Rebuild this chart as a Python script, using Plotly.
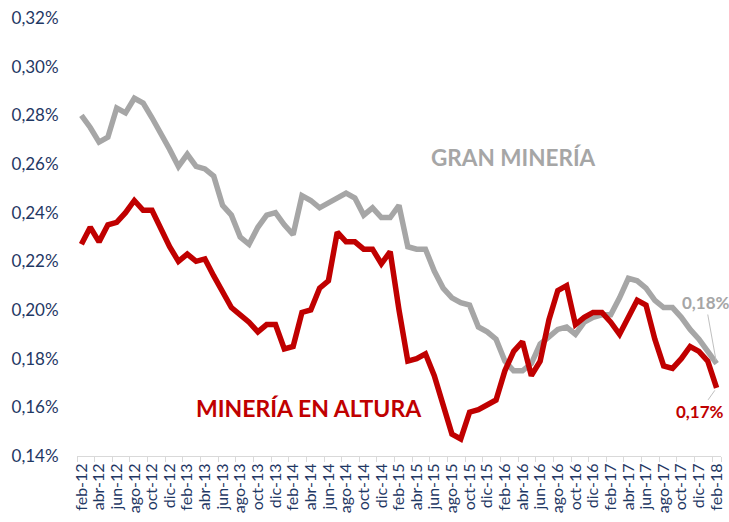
import plotly.graph_objects as go

month_names = ["ene", "feb", "mar", "abr", "may", "jun", "jul", "ago", "sep", "oct", "nov", "dic"]
# monthly periods from feb-12 to feb-18
periods = []
for yr in range(12, 19):
    for m in month_names:
        periods.append(f"{m}-{yr}")
start = periods.index("feb-12")
end = periods.index("feb-18")
months = periods[start:end + 1]

gran_mineria = [
    0.280, 0.275, 0.269, 0.271, 0.283, 0.281, 0.287, 0.285, 0.279, 0.273, 0.266, 0.259,
    0.264, 0.259, 0.258, 0.255, 0.243, 0.239, 0.230, 0.227, 0.234, 0.239, 0.240, 0.235,
    0.231, 0.247, 0.245, 0.242, 0.244, 0.246, 0.248, 0.246, 0.239, 0.242, 0.238, 0.238,
    0.243, 0.226, 0.225, 0.225, 0.216, 0.209, 0.205, 0.203, 0.202, 0.193, 0.191, 0.188,
    0.179, 0.175, 0.175, 0.178, 0.186, 0.189, 0.192, 0.193, 0.190, 0.195, 0.197, 0.198,
    0.198, 0.205, 0.213, 0.212, 0.209, 0.204, 0.201, 0.201, 0.197, 0.192, 0.188, 0.183,
    0.178,
]
mineria_altura = [
    0.227, 0.234, 0.228, 0.235, 0.236, 0.240, 0.245, 0.241, 0.241, 0.233, 0.226, 0.220,
    0.223, 0.220, 0.221, 0.214, 0.207, 0.201, 0.198, 0.195, 0.191, 0.194, 0.194, 0.184,
    0.185, 0.199, 0.200, 0.209, 0.212, 0.232, 0.228, 0.228, 0.225, 0.225, 0.219, 0.224,
    0.200, 0.179, 0.180, 0.182, 0.173, 0.161, 0.149, 0.147, 0.158, 0.159, 0.161, 0.163,
    0.175, 0.183, 0.187, 0.173, 0.179, 0.196, 0.208, 0.210, 0.194, 0.197, 0.199, 0.199,
    0.195, 0.190, 0.197, 0.204, 0.202, 0.188, 0.177, 0.176, 0.180, 0.185, 0.183, 0.179,
    0.168,
]
y_ticks = [0.14, 0.16, 0.18, 0.20, 0.22, 0.24, 0.26, 0.28, 0.30, 0.32]
y_tick_labels = ["0,14%", "0,16%", "0,18%", "0,20%", "0,22%", "0,24%", "0,26%", "0,28%", "0,30%", "0,32%"]

GRAY = "#A6A6A6"
RED = "#C00000"
NAVY = "#1F3864"
FONT = "Lato"

x_idx = list(range(len(months)))

fig = go.Figure()
fig.add_trace(go.Scatter(x=x_idx, y=gran_mineria, mode="lines", name="GRAN MINERÍA",
                         line=dict(color=GRAY, width=5.5), hoverinfo="skip"))
fig.add_trace(go.Scatter(x=x_idx, y=mineria_altura, mode="lines", name="MINERÍA EN ALTURA",
                         line=dict(color=RED, width=5.5), hoverinfo="skip"))

fig.update_layout(
    width=729, height=522,
    margin=dict(l=77, r=8, t=18, b=66),
    plot_bgcolor="white", paper_bgcolor="white",
    showlegend=False,
    separators=",.",
    font=dict(family=FONT, color=NAVY),
)
fig.update_xaxes(
    range=[-0.5, len(months) - 0.5],
    tickmode="array",
    tickvals=x_idx[::2],
    ticktext=months[::2],
    tickangle=-90,
    tickfont=dict(family=FONT, size=16, color=NAVY),
    ticks="",
    showgrid=False, zeroline=False,
    showline=True, linecolor="#D9D9D9", linewidth=1,
    minor=dict(tickvals=[i - 0.5 for i in x_idx[::2]] + [len(months) - 0.5],
               ticks="outside", ticklen=5, tickcolor="#D9D9D9", showgrid=False),
    automargin=False,
)
fig.update_yaxes(
    range=[0.14, 0.32],
    tickmode="array",
    tickvals=y_ticks,
    ticktext=y_tick_labels,
    tickfont=dict(family=FONT, size=17, color=NAVY),
    ticks="outside", ticklen=14, tickcolor="rgba(0,0,0,0)",
    showgrid=False, zeroline=False, showline=False,
    automargin=False,
)

fig.add_annotation(x=49, y=0.2628, xref="x", yref="y", text="<b>GRAN MINERÍA</b>",
                   showarrow=False, font=dict(family=FONT, size=22.5, color=GRAY))
fig.add_annotation(x=25.85, y=0.1597, xref="x", yref="y", text="<b>MINERÍA EN ALTURA</b>",
                   showarrow=False, font=dict(family=FONT, size=23, color=RED))
fig.add_annotation(x=72, y=gran_mineria[-1], xref="x", yref="y", text="<b>0,18%</b>",
                   showarrow=True, arrowhead=0, arrowwidth=1, arrowcolor="#BFBFBF",
                   ax=-11, ay=-61, standoff=3,
                   font=dict(family=FONT, size=17, color=GRAY))
fig.add_annotation(x=72, y=mineria_altura[-1], xref="x", yref="y", text="<b>0,17%</b>",
                   showarrow=True, arrowhead=0, arrowwidth=1, arrowcolor="#BFBFBF",
                   ax=-17, ay=24, standoff=3,
                   font=dict(family=FONT, size=17, color=RED))

fig.write_html("out.html", config={"displayModeBar": False},
               post_script="document.body.style.margin='0';")
